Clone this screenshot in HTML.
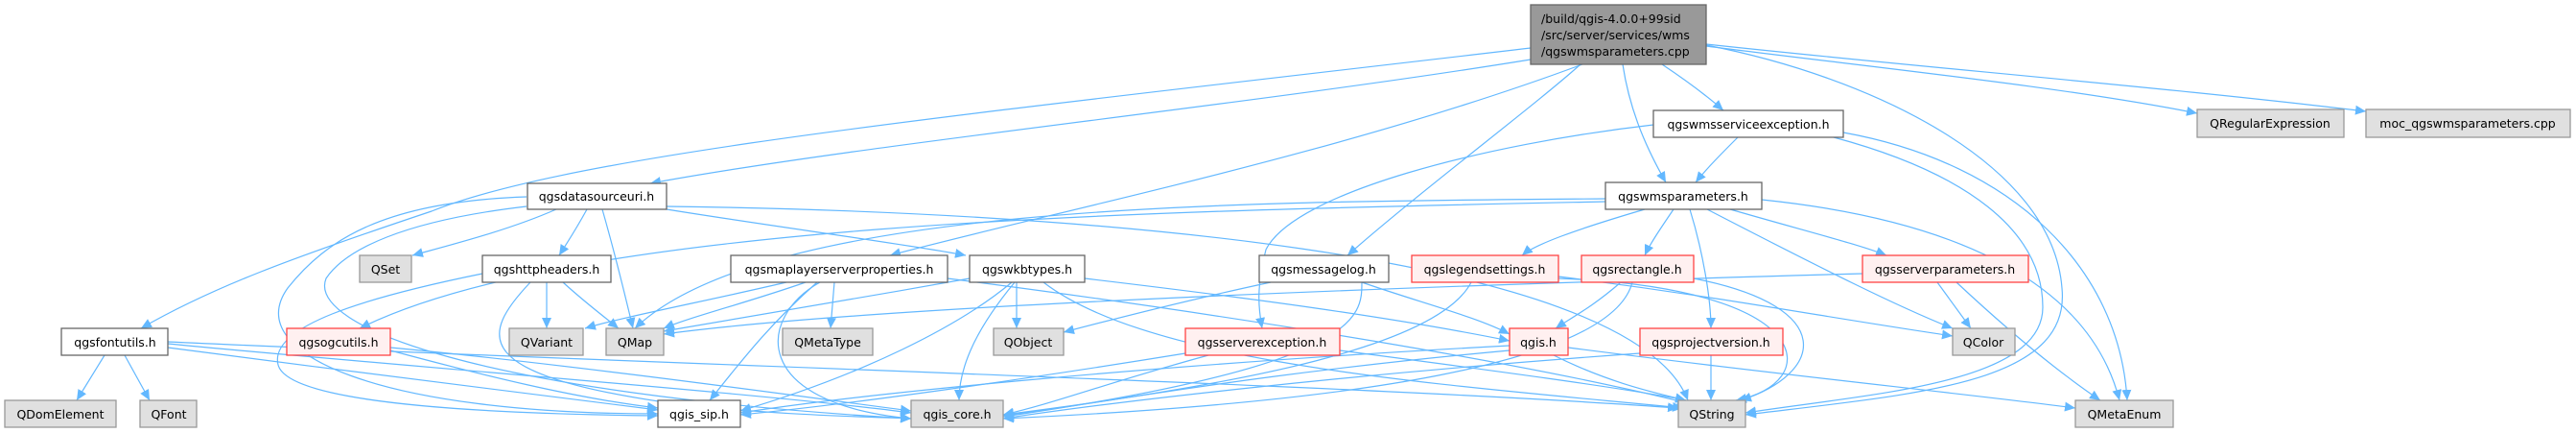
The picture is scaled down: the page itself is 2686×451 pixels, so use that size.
<!DOCTYPE html>
<html><head><meta charset="utf-8"><style>
html,body{margin:0;padding:0;background:#fff;}
svg{display:block;}
text{font-family:"DejaVu Sans","Liberation Sans",sans-serif;font-size:12.5px;fill:#000;}
.e{fill:none;stroke:#63b8ff;stroke-width:1.2;}
.w{fill:#fff;stroke:#666;stroke-width:1.3;}
.g{fill:#e0e0e0;stroke:#999;stroke-width:1.3;}
.r{fill:#fff0f0;stroke:#f44;stroke-width:1.3;}
</style></head><body>
<svg width="2686" height="451" viewBox="0 0 2686 451" xmlns="http://www.w3.org/2000/svg">
<defs><marker id="a" markerUnits="userSpaceOnUse" markerWidth="12" markerHeight="10" refX="11" refY="5" orient="auto"><path d="M0,0 L11,5 L0,10 Z" fill="#63b8ff"/></marker></defs>
<g marker-end="url(#a)">
<!-- from top node -->
<path class="e" d="M1596,62 C1300,110 900,150 678,191"/>
<path class="e" d="M1596,50 C1000,120 600,160 450,220 C300,270 220,300 147,342"/>
<path class="e" d="M1650,67 C1400,160 1100,220 928,266"/>
<path class="e" d="M1648,67 C1600,110 1480,200 1405,266"/>
<path class="e" d="M1692,67 C1700,120 1720,160 1737,190"/>
<path class="e" d="M1733,67 C1760,85 1780,100 1797,115"/>
<path class="e" d="M1779,47 C1950,80 2140,170 2150,300 C2160,400 2000,410 1820,432"/>
<path class="e" d="M1779,48 C1950,70 2150,90 2291,118"/>
<path class="e" d="M1779,46 C2000,70 2250,90 2467,116"/>
<!-- qgsdatasourceuri -->
<path class="e" d="M580,218 C530,240 470,255 430,266"/>
<path class="e" d="M612,218 C600,240 590,255 583,266"/>
<path class="e" d="M628,218 C640,260 650,300 660,342"/>
<path class="e" d="M695,218 C800,235 950,255 1007,266"/>
<path class="e" d="M549,205 C400,210 340,250 300,300 C250,370 400,431 686,431"/>
<path class="e" d="M549,215 C420,230 360,260 340,290 C320,340 500,410 950,436"/>
<path class="e" d="M695,215 C1100,220 1700,260 1760,417"/>
<!-- qgshttpheaders -->
<path class="e" d="M570,294 L570,342"/>
<path class="e" d="M587,294 C610,315 630,330 645,342"/>
<path class="e" d="M503,285 C380,310 280,340 290,380 C300,420 500,431 686,433"/>
<path class="e" d="M553,294 C500,350 490,390 700,420 C800,432 900,434 950,436"/>
<!-- qgsfontutils -->
<path class="e" d="M109,370 L80,417"/>
<path class="e" d="M130,370 L156,417"/>
<path class="e" d="M175,362 C350,385 550,410 686,427"/>
<path class="e" d="M175,358 C400,380 800,410 950,430"/>
<path class="e" d="M175,356 C700,380 1400,400 1750,425"/>
<!-- qgsogcutils -->
<path class="e" d="M407,365 C500,390 600,415 686,425"/>
<path class="e" d="M407,362 C600,380 850,415 950,428"/>
<!-- qgsmaplayerserverproperties -->
<path class="e" d="M820,294 C730,315 650,330 610,342"/>
<path class="e" d="M840,294 C780,315 720,330 692,342"/>
<path class="e" d="M870,294 L866,342"/>
<path class="e" d="M852,294 C800,340 770,380 740,417"/>
<path class="e" d="M855,294 C790,330 780,420 950,436"/>
<path class="e" d="M988,290 C1300,330 1600,380 1760,420"/>
<!-- qgswkbtypes -->
<path class="e" d="M1060,294 L1060,342"/>
<path class="e" d="M1055,294 C1000,340 900,390 772,428"/>
<path class="e" d="M1058,294 C1020,340 1000,380 1000,417"/>
<path class="e" d="M1088,294 C1200,380 1500,400 1755,425"/>
<path class="e" d="M1131,290 C1300,310 1450,330 1574,355"/>
<path class="e" d="M1011,290 C900,310 780,330 692,345"/>
<!-- qgsmessagelog -->
<path class="e" d="M1325,294 C1250,310 1170,330 1109,346"/>
<path class="e" d="M1420,294 C1480,315 1540,330 1574,348"/>
<path class="e" d="M1420,294 C1420,330 1420,380 1046,434"/>
<!-- qgsserverexception -->
<path class="e" d="M1236,368 C1100,390 900,420 772,432"/>
<path class="e" d="M1260,370 C1150,400 1100,420 1046,432"/>
<path class="e" d="M1397,365 C1550,385 1700,405 1758,417"/>
<!-- qgswmsserviceexception -->
<path class="e" d="M1724,130 C1550,150 1350,200 1320,260 C1310,300 1312,320 1316,342"/>
<path class="e" d="M1812,143 C1795,160 1780,175 1768,190"/>
<path class="e" d="M1912,143 C2050,180 2130,240 2130,320 C2130,400 1950,410 1820,430"/>
<path class="e" d="M1922,138 C2100,170 2210,280 2218,417"/>
<!-- qgswmsparameters -->
<path class="e" d="M1715,218 C1640,240 1600,255 1587,266"/>
<path class="e" d="M1745,218 C1730,240 1720,255 1715,266"/>
<path class="e" d="M1762,218 C1775,260 1784,310 1784,342"/>
<path class="e" d="M1804,218 C1880,240 1940,255 1967,266"/>
<path class="e" d="M1780,218 C1900,280 1980,320 2036,342"/>
<path class="e" d="M1837,208 C2050,230 2180,300 2210,417"/>
<path class="e" d="M1674,207 C1300,210 800,210 662,342"/>
<path class="e" d="M1674,210 C1200,220 600,230 375,342"/>
<!-- qgslegendsettings -->
<path class="e" d="M1534,294 C1500,360 1300,400 1046,432"/>
<path class="e" d="M1625,290 C1900,300 1900,400 1810,417"/>
<path class="e" d="M1625,288 C1800,310 1900,330 2036,350"/>
<!-- qgsrectangle -->
<path class="e" d="M1690,294 C1660,320 1640,330 1622,342"/>
<path class="e" d="M1702,294 C1680,380 1400,420 1046,436"/>
<path class="e" d="M1766,290 C1920,320 1900,390 1815,417"/>
<!-- qgsserverparameters -->
<path class="e" d="M2020,294 L2055,342"/>
<path class="e" d="M2040,294 C2100,350 2150,390 2190,417"/>
<path class="e" d="M1942,285 C1400,300 900,320 692,348"/>
<!-- qgis.h -->
<path class="e" d="M1574,360 C1200,380 900,410 772,430"/>
<path class="e" d="M1574,365 C1300,390 1150,420 1046,433"/>
<path class="e" d="M1620,370 C1680,400 1730,410 1758,417"/>
<path class="e" d="M1635,362 C1850,390 2050,410 2164,425"/>
<!-- qgsprojectversion -->
<path class="e" d="M1784,370 L1784,417"/>
<path class="e" d="M1710,368 C1400,390 1150,420 1046,436"/>
</g>
<!-- nodes -->
<rect class="g" x="1596" y="5" width="183" height="62" style="fill:#999;stroke:#666"/>
<text x="1607" y="24">/build/qgis-4.0.0+99sid</text>
<text x="1607" y="41">/src/server/services/wms</text>
<text x="1607" y="58">/qgswmsparameters.cpp</text>

<rect class="w" x="550" y="191" width="145" height="27"/><text x="622" y="209" text-anchor="middle">qgsdatasourceuri.h</text>
<rect class="g" x="375" y="266" width="54" height="28"/><text x="402" y="285" text-anchor="middle">QSet</text>
<rect class="w" x="503" y="266" width="134" height="28"/><text x="570" y="285" text-anchor="middle">qgshttpheaders.h</text>
<rect class="w" x="64" y="342" width="111" height="28"/><text x="120" y="361" text-anchor="middle">qgsfontutils.h</text>
<rect class="r" x="299" y="342" width="108" height="28"/><text x="353" y="361" text-anchor="middle">qgsogcutils.h</text>
<rect class="g" x="531" y="342" width="77" height="28"/><text x="570" y="361" text-anchor="middle">QVariant</text>
<rect class="g" x="632" y="342" width="60" height="28"/><text x="662" y="361" text-anchor="middle">QMap</text>
<rect class="g" x="5" y="417" width="116" height="28"/><text x="63" y="436" text-anchor="middle">QDomElement</text>
<rect class="g" x="146" y="417" width="59" height="28"/><text x="176" y="436" text-anchor="middle">QFont</text>
<rect class="w" x="686" y="417" width="86" height="28"/><text x="729" y="436" text-anchor="middle">qgis_sip.h</text>
<rect class="w" x="762" y="266" width="226" height="28"/><text x="875" y="285" text-anchor="middle">qgsmaplayerserverproperties.h</text>
<rect class="w" x="1011" y="266" width="120" height="28"/><text x="1071" y="285" text-anchor="middle">qgswkbtypes.h</text>
<rect class="g" x="816" y="342" width="94" height="28"/><text x="863" y="361" text-anchor="middle">QMetaType</text>
<rect class="g" x="1036" y="342" width="73" height="28"/><text x="1072" y="361" text-anchor="middle">QObject</text>
<rect class="r" x="1236" y="342" width="161" height="28"/><text x="1316" y="361" text-anchor="middle">qgsserverexception.h</text>
<rect class="g" x="950" y="417" width="96" height="28"/><text x="998" y="436" text-anchor="middle">qgis_core.h</text>
<rect class="w" x="1313" y="266" width="135" height="28"/><text x="1380" y="285" text-anchor="middle">qgsmessagelog.h</text>
<rect class="w" x="1724" y="115" width="198" height="28"/><text x="1823" y="134" text-anchor="middle">qgswmsserviceexception.h</text>
<rect class="w" x="1674" y="190" width="163" height="28"/><text x="1755" y="209" text-anchor="middle">qgswmsparameters.h</text>
<rect class="r" x="1472" y="266" width="153" height="28"/><text x="1548" y="285" text-anchor="middle">qgslegendsettings.h</text>
<rect class="r" x="1649" y="266" width="117" height="28"/><text x="1707" y="285" text-anchor="middle">qgsrectangle.h</text>
<rect class="r" x="1942" y="266" width="173" height="28"/><text x="2028" y="285" text-anchor="middle">qgsserverparameters.h</text>
<rect class="r" x="1574" y="342" width="61" height="28"/><text x="1604" y="361" text-anchor="middle">qgis.h</text>
<rect class="r" x="1710" y="342" width="149" height="28"/><text x="1784" y="361" text-anchor="middle">qgsprojectversion.h</text>
<rect class="g" x="2036" y="342" width="65" height="28"/><text x="2068" y="361" text-anchor="middle">QColor</text>
<rect class="g" x="1750" y="417" width="70" height="28"/><text x="1785" y="436" text-anchor="middle">QString</text>
<rect class="g" x="2291" y="114" width="153" height="29"/><text x="2367" y="133" text-anchor="middle">QRegularExpression</text>
<rect class="g" x="2467" y="114" width="213" height="29"/><text x="2573" y="133" text-anchor="middle">moc_qgswmsparameters.cpp</text>
<rect class="g" x="2164" y="417" width="102" height="28"/><text x="2215" y="436" text-anchor="middle">QMetaEnum</text>
</svg>
</body></html>
